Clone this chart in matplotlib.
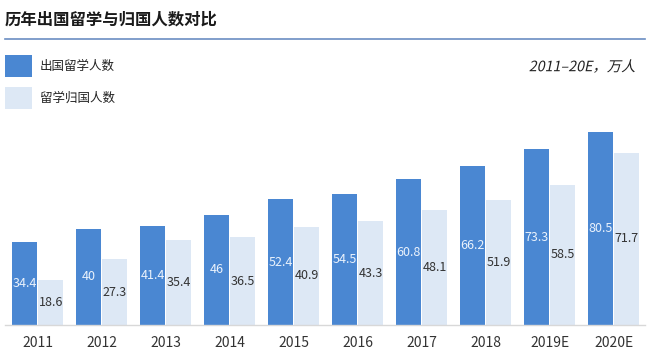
import numpy as np
import matplotlib
matplotlib.use("Agg")
import matplotlib.pyplot as plt
from matplotlib.patches import Rectangle, PathPatch
from matplotlib.textpath import TextPath
from matplotlib.font_manager import FontProperties
from matplotlib.transforms import Affine2D

plt.rcParams['font.family'] = ['Noto Sans CJK SC', 'DejaVu Sans']

# 数据
years = ["2011", "2012", "2013", "2014", "2015", "2016", "2017", "2018", "2019E", "2020E"]
chuguo = [34.4, 40, 41.4, 46, 52.4, 54.5, 60.8, 66.2, 73.3, 80.5]
guiguo = [18.6, 27.3, 35.4, 36.5, 40.9, 43.3, 48.1, 51.9, 58.5, 71.7]
series_names = ["出国留学人数", "留学归国人数"]
unit_note = "2011–20E，万人"

c_dark = "#4a87d2"
c_light = "#dde8f5"

W, H = 650, 358
fig = plt.figure(figsize=(W / 100, H / 100), dpi=100)

# 标题和分隔线
fig.text(5 / W, 1 - 20 / H, "历年出国留学与归国人数对比", fontsize=11.8,
         fontweight="bold", color="#1a1a1a", va="center", ha="left")
fig.add_artist(plt.Line2D([5 / W, 645 / W], [1 - 39 / H, 1 - 39 / H],
                          color="#6b8ec2", lw=1.2))

# 图例
for k, (name, col) in enumerate(zip(series_names, [c_dark, c_light])):
    y0 = 55 + k * 32
    fig.add_artist(Rectangle((5 / W, 1 - (y0 + 22) / H), 27 / W, 22 / H,
                             transform=fig.transFigure, color=col, lw=0))
    fig.text(40 / W, 1 - (y0 + 11) / H, name, fontsize=9, color="#222222",
             va="center", ha="left")

# 斜体单位说明 (CJK字体没有斜体, 用倾斜路径)
fp = FontProperties(family=['Noto Sans CJK SC', 'DejaVu Sans'], size=14.3)
tp = TextPath((0, 0), unit_note, prop=fp)
bb = tp.get_extents()
tr = (Affine2D().translate(-bb.x1, -(bb.y0 + bb.y1) / 2).skew_deg(12, 0)
      .translate(636, H - 66))
fig.add_artist(PathPatch(tr.transform_path(tp), transform=None,
                         color="#222222", lw=0))

# 柱状图
ax = fig.add_axes([5 / W, 33 / H, 640 / W, 205 / H])
x = np.arange(len(years))
bw = 0.39
b1 = ax.bar(x - bw / 2 - 0.008, chuguo, bw, color=c_dark)
b2 = ax.bar(x + bw / 2 + 0.008, guiguo, bw, color=c_light)

for r, v in zip(b1, chuguo):
    ax.text(r.get_x() + r.get_width() / 2, v / 2, f"{v:g}", ha="center",
            va="center", fontsize=9, color="#eaf2fc")
for r, v in zip(b2, guiguo):
    ax.text(r.get_x() + r.get_width() / 2, v / 2, f"{v:g}", ha="center",
            va="center", fontsize=9, color="#333333")

ax.set_xlim(-0.51, 9.49)
ax.set_ylim(0, 85.4)
ax.set_xticks(x)
ax.set_xticklabels(years, fontsize=10, color="#333333")
ax.tick_params(axis="x", length=0, pad=8)
ax.set_yticks([])
for s in ["top", "right", "left"]:
    ax.spines[s].set_visible(False)
ax.spines["bottom"].set_color("#d8d8d8")
ax.spines["bottom"].set_linewidth(1)

fig.savefig("out.png", dpi=100)
